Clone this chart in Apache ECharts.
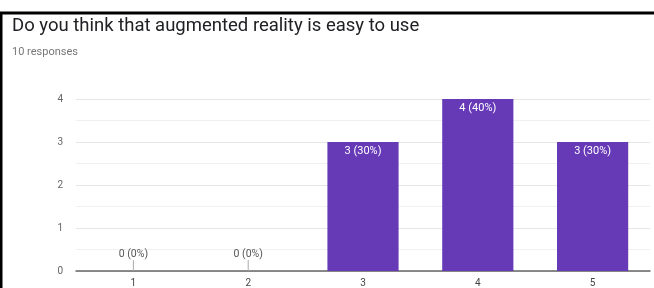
<!DOCTYPE html>
<html>
<head>
<meta charset="utf-8">
<script src="https://cdn.jsdelivr.net/npm/echarts@6/dist/echarts.min.js"></script>
<style>
  html, body { margin: 0; padding: 0; background: #fff; }
  #chart { width: 654px; height: 288px; }
</style>
</head>
<body>
<div id="chart"></div>
<script>
// survey answers
var categories = ["1", "2", "3", "4", "5"];
var counts = [0, 0, 3, 4, 3];
var totalResponses = 10;
var yTicks = [0, 1, 2, 3, 4];

var chart = echarts.init(document.getElementById("chart"), null, { renderer: "canvas" });

function pctLabel(v) {
  return v + " (" + Math.round(v / totalResponses * 100) + "%)";
}

var zeroData = [];
counts.forEach(function (v, i) {
  if (v === 0) zeroData.push([i, v]);
});

chart.setOption({
  animation: false,
  textStyle: { fontFamily: "Roboto, 'Liberation Sans', sans-serif" },
  title: {
    text: "Do you think that augmented reality is easy to use",
    subtext: totalResponses + " responses",
    left: 7,
    top: 12,
    itemGap: 11,
    textStyle: { fontSize: 18.5, fontWeight: "normal", color: "#202124" },
    subtextStyle: { fontSize: 11, color: "#777" }
  },
  graphic: [
    { type: "line", shape: { x1: 0, y1: 13, x2: 654, y2: 13 }, style: { stroke: "#000", lineWidth: 3 } },
    { type: "line", shape: { x1: 1, y1: 13, x2: 1, y2: 288 }, style: { stroke: "#000", lineWidth: 3 } }
  ],
  grid: { left: 76, right: 4, top: 99, bottom: 17 },
  xAxis: {
    type: "category",
    data: categories,
    axisTick: { show: false },
    axisLine: { lineStyle: { color: "#666", width: 1.5 } },
    axisLabel: { color: "#444", fontSize: 10, margin: 7 }
  },
  yAxis: {
    type: "value",
    min: yTicks[0],
    max: yTicks[yTicks.length - 1],
    interval: 1,
    axisLine: { show: false },
    axisTick: { show: false },
    axisLabel: { color: "#666", fontSize: 10, margin: 13 },
    splitLine: { lineStyle: { color: "#e6e6e6" } },
    minorTick: { show: false, splitNumber: 2 },
    minorSplitLine: { show: true, lineStyle: { color: "#f0f0f0" } }
  },
  series: [
    {
      type: "bar",
      data: counts,
      barWidth: "62%",
      itemStyle: { color: "#6639b6" },
      label: {
        show: true,
        position: "insideTop",
        distance: 4,
        color: "#fff",
        fontSize: 11,
        formatter: function (p) { return p.value > 0 ? pctLabel(p.value) : ""; }
      }
    },
    {
      type: "custom",
      data: zeroData,
      silent: true,
      renderItem: function (params, api) {
        var pt = api.coord([api.value(0), api.value(1)]);
        return {
          type: "group",
          children: [
            { type: "line", shape: { x1: pt[0], y1: pt[1], x2: pt[0], y2: pt[1] - 11 }, style: { stroke: "#aaa", lineWidth: 1 } },
            { type: "text", x: pt[0], y: pt[1] - 11, style: { text: pctLabel(api.value(1)), fill: "#555", font: "10.5px Roboto, sans-serif", align: "center", verticalAlign: "bottom" } }
          ]
        };
      }
    }
  ]
});
</script>
</body>
</html>
